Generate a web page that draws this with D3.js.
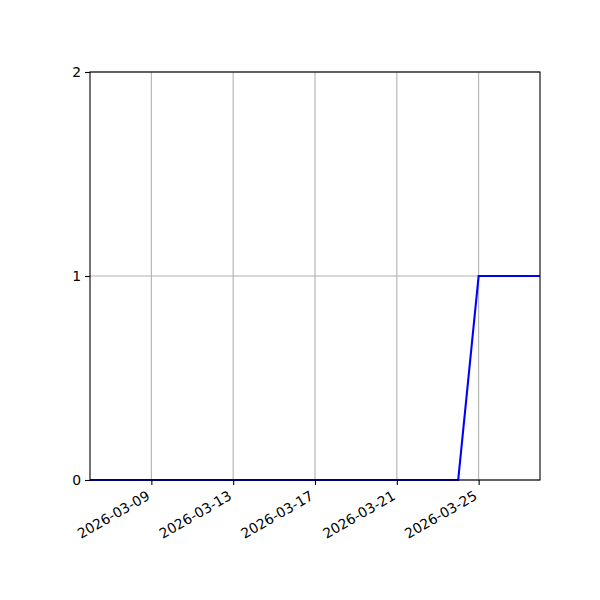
<!DOCTYPE html>
<html>
<head>
<meta charset="utf-8">
<script src="https://cdn.jsdelivr.net/npm/d3@7"></script>
<style>
  body { margin: 0; background: #fff; }
  text { font-family: "DejaVu Sans", sans-serif; }
</style>
</head>
<body>
<div id="chart"></div>
<script>
// daily values
const dates = ["2026-03-06", "2026-03-07", "2026-03-08", "2026-03-09", "2026-03-10",
  "2026-03-11", "2026-03-12", "2026-03-13", "2026-03-14", "2026-03-15", "2026-03-16",
  "2026-03-17", "2026-03-18", "2026-03-19", "2026-03-20", "2026-03-21", "2026-03-22",
  "2026-03-23", "2026-03-24", "2026-03-25", "2026-03-26", "2026-03-27", "2026-03-28"];
const counts = [0, 0, 0, 0, 0, 0, 0, 0, 0, 0, 0, 0, 0, 0, 0, 0, 0, 0, 0, 1, 1, 1, 1];
const xTicks = ["2026-03-09", "2026-03-13", "2026-03-17", "2026-03-21", "2026-03-25"];
const yTicks = [0, 1, 2];

const width = 600, height = 600;
const margin = {left: 90, right: 60, top: 72, bottom: 120};
const parse = d3.utcParse("%Y-%m-%d");
const fmt = d3.utcFormat("%Y-%m-%d");

const data = dates.map((d, i) => ({date: parse(d), value: counts[i]}));

const svg = d3.select("#chart")
  .append("svg")
  .attr("width", width)
  .attr("height", height);

let x = d3.scaleUtc()
  .domain(d3.extent(data, d => d.date))
  .range([margin.left, width - margin.right]);

let y = d3.scaleLinear()
  .domain([0, 2])
  .range([height - margin.bottom, margin.top]);

// grid
svg.append("g")
  .selectAll("line")
  .data(xTicks.map(parse))
  .enter()
  .append("line")
  .attr("x1", d => x(d)).attr("x2", d => x(d))
  .attr("y1", y(0)).attr("y2", y(2))
  .style("stroke", "#b0b0b0")
  .style("stroke-width", 1.1);

svg.append("g")
  .selectAll("line")
  .data(yTicks)
  .enter()
  .append("line")
  .attr("x1", x.range()[0]).attr("x2", x.range()[1])
  .attr("y1", d => y(d)).attr("y2", d => y(d))
  .style("stroke", "#b0b0b0")
  .style("stroke-width", 1.1);

// line
const line = d3.line()
  .x(d => x(d.date))
  .y(d => y(d.value));

svg.append("path")
  .datum(data)
  .attr("d", line)
  .style("fill", "none")
  .style("stroke", "#0000ff")
  .style("stroke-width", 2.1);

// frame
svg.append("rect")
  .attr("x", margin.left)
  .attr("y", margin.top)
  .attr("width", width - margin.left - margin.right)
  .attr("height", height - margin.top - margin.bottom)
  .style("fill", "none")
  .style("stroke", "#000")
  .style("stroke-width", 1.1);

// x axis
let xAxis = svg.append("g")
  .attr("transform", "translate(0," + y(0) + ")")
  .call(d3.axisBottom(x).tickValues(xTicks.map(parse)).tickFormat(fmt).tickSizeOuter(0).tickSize(5));
xAxis.select(".domain").remove();
xAxis.selectAll("line").style("stroke-width", 1.1);
xAxis.selectAll("text")
  .style("font-size", "13.9px")
  .style("fill", "#000")
  .attr("text-anchor", "end")
  .attr("y", 0)
  .attr("dy", "0.72em")
  .attr("transform", "translate(-6,10) rotate(-30)");

// y axis
let yAxis = svg.append("g")
  .attr("transform", "translate(" + margin.left + ",0)")
  .call(d3.axisLeft(y).tickValues(yTicks).tickFormat(d3.format("d")).tickSizeOuter(0).tickSize(5));
yAxis.select(".domain").remove();
yAxis.selectAll("line").style("stroke-width", 1.1);
yAxis.selectAll("text")
  .style("font-size", "13.9px")
  .style("fill", "#000")
  .attr("x", -9);
</script>
</body>
</html>
